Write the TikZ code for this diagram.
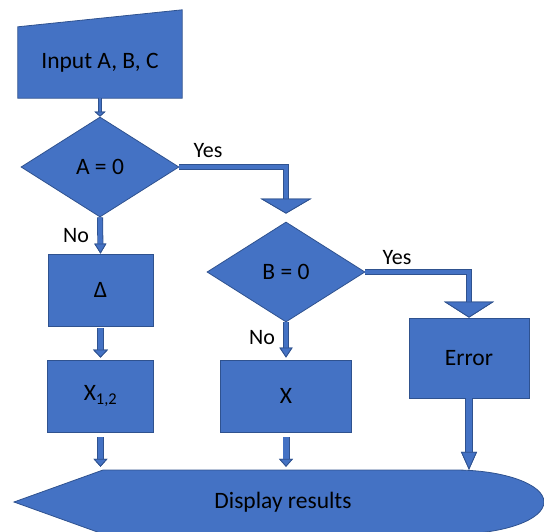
\documentclass[tikz,border=0pt]{standalone}
\usepackage{fontspec}
\setmainfont{Carlito}
\usetikzlibrary{positioning, arrows.meta, shapes.geometric, backgrounds}

\definecolor{boxblue}{HTML}{4472C4}
\definecolor{boxline}{HTML}{2F528F}

\tikzset{
    every node/.style={font=\fontsize{23.5}{28}\selectfont, text=black},
    block/.style={draw=boxline, fill=boxblue, line width=0.8pt, inner sep=0pt},
    decision/.style={block, diamond, minimum width=158, minimum height=100},
    yesno/.style={font=\fontsize{22}{26}\selectfont},
    blk/.style n args={3}{draw=boxblue, line width=#1-1.6,
        preaction={draw=boxline, line width=#1},
        -{Triangle[width=#2pt, length=#3pt, line width=0.8pt, color=boxline, fill=boxblue]}}
}

\begin{document}
\begin{tikzpicture}[x=1pt, y=-1pt]
\useasboundingbox (0,0) rectangle (544,531);

% Input and decisions
\node(inp) at (100,62.5) [minimum width=164, minimum height=71] {Input A, B, C};
\node[decision](dA) at (100,167) {A = 0};
\node[decision](dB) at (286,272) {B = 0};

% Boxes
\node[block, minimum width=105, minimum height=72](dlt) at (100.5,290) {Δ};
\node[block, minimum width=106, minimum height=72](x12) at (100.5,396) {X\textsubscript{1,2}};
\node[block, minimum width=131, minimum height=72](xb) at (286,396) {X};
\node[block, minimum width=120, minimum height=80](err) at (469,358) {Error};
\node(disp) at (283,502) [minimum height=64] {Display results};

\begin{scope}[on background layer]
    \filldraw[block] (inp.south west) -- (inp.south east)
        -- ([yshift=17pt]inp.north east) -- (inp.north west) -- cycle;
    \filldraw[block] (103,470) -- (455,470)
        arc[start angle=-90, end angle=90, x radius=89, y radius=32]
        -- (103,534) -- (14,502) -- cycle;
\end{scope}

% Labels
\node[yesno](y1) at (208,151) {Yes};
\node[yesno](y2) at (397,258) {Yes};
\node[yesno](n1) at (76,236) {No};
\node[yesno](n2) at (262,338) {No};

% Connectors
\draw[blk={4.5}{11}{5}] (inp.south) -- (dA.north);
\draw[blk={6}{12}{10}] (dA.south) -- (dlt.north);
\draw[blk={6.5}{15}{8}] ([yshift=-2pt]dlt.south) -- ([yshift=2pt]x12.north);
\draw[blk={5.5}{51}{15}] (dA.east) -| ([yshift=8pt]dB.north);
\draw[blk={5.5}{50}{16}] (dB.east) -| (err.north);
\draw[blk={5.5}{13}{10}] (dB.south) -- ([yshift=2pt]xb.north);
\draw[blk={7}{14}{8}] ([yshift=-5pt]x12.south) -- ([yshift=3pt]x12.south |- disp.north);
\draw[blk={7}{14}{8}] ([yshift=-5pt]xb.south) -- ([yshift=3pt]xb.south |- disp.north);
\draw[blk={7.5}{16}{18}] (err.south) -- (err.south |- disp.north);
\end{tikzpicture}
\end{document}
